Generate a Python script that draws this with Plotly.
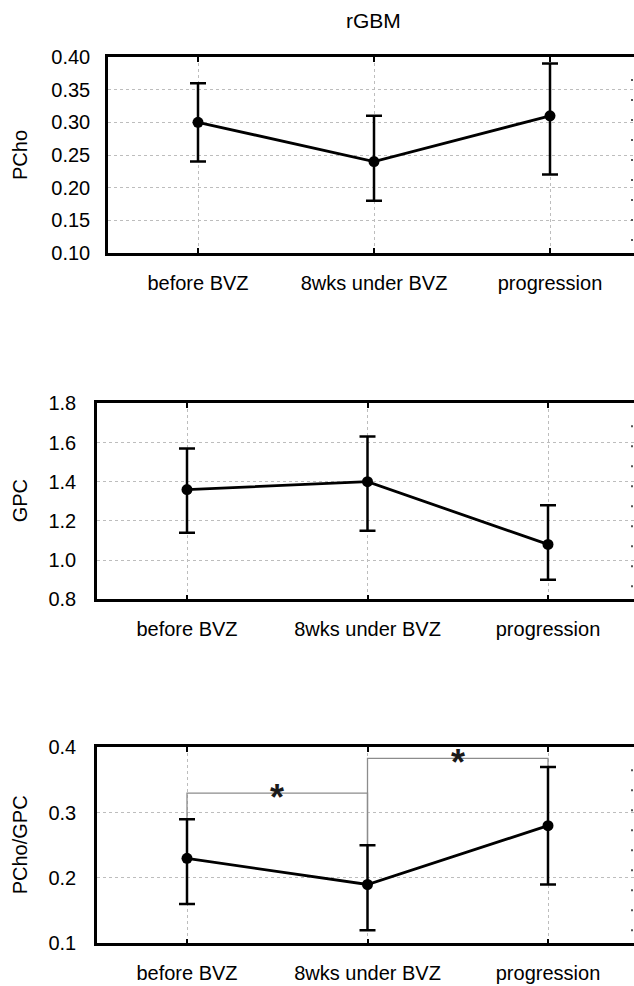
import plotly.graph_objects as go

# ---------------- data ----------------
categories = ["before BVZ", "8wks under BVZ", "progression"]

pcho_mean = [0.30, 0.24, 0.31]
pcho_upper = [0.36, 0.31, 0.39]
pcho_lower = [0.24, 0.18, 0.22]

gpc_mean = [1.36, 1.40, 1.08]
gpc_upper = [1.57, 1.63, 1.28]
gpc_lower = [1.14, 1.15, 0.90]

ratio_mean = [0.23, 0.19, 0.28]
ratio_upper = [0.29, 0.25, 0.37]
ratio_lower = [0.16, 0.12, 0.19]

pcho_ticks = [0.10, 0.15, 0.20, 0.25, 0.30, 0.35, 0.40]
gpc_ticks = [0.8, 1.0, 1.2, 1.4, 1.6, 1.8]
ratio_ticks = [0.1, 0.2, 0.3, 0.4]

sig_pairs = [(0, 1), (1, 2)]
sig_heights = [0.33, 0.383]

panel_titles = ["PCho", "GPC", "PCho/GPC"]
main_title = "rGBM"

# ---------------- layout constants ----------------
W, H = 634, 986
FONT = "Liberation Sans, Arial, sans-serif"

# pixel geometry of each panel: left, top, bottom, first category px, category spacing px
panels = [
    dict(left=108, top=57, bottom=253, c0=198, step=176, ystand=11),
    dict(left=97, top=403.3, bottom=599.3, c0=187, step=180.5, ystand=14),
    dict(left=97, top=747.3, bottom=943.3, c0=187, step=180.5, ystand=14),
]

series = [
    (pcho_mean, pcho_upper, pcho_lower, pcho_ticks, ".2f"),
    (gpc_mean, gpc_upper, gpc_lower, gpc_ticks, ".1f"),
    (ratio_mean, ratio_upper, ratio_lower, ratio_ticks, ".1f"),
]

fig = go.Figure()
layout = dict(
    width=W, height=H,
    margin=dict(l=0, r=0, t=0, b=0, pad=0),
    template="none",
    paper_bgcolor="white",
    plot_bgcolor="white",
    showlegend=False,
    font=dict(family=FONT, size=20, color="black"),
)
annotations = []
shapes = []

xidx = list(range(len(categories)))

for i, (p, (mean, up, lo, yt, fmt)) in enumerate(zip(panels, series)):
    n = "" if i == 0 else str(i + 1)
    xa, ya = "x" + n, "y" + n
    width_px = W - p["left"]
    r0 = -(p["c0"] - p["left"]) / p["step"]
    r1 = r0 + width_px / p["step"]
    ydom = [1 - p["bottom"] / H, 1 - p["top"] / H]

    layout["xaxis" + n] = dict(
        domain=[p["left"] / W, 1.0], anchor=ya, range=[r0, r1],
        tickvals=xidx, ticktext=categories,
        showline=True, linewidth=2.5, linecolor="black", mirror="ticks",
        ticks="inside", ticklen=5, tickwidth=2, tickcolor="black",
        showgrid=True, gridcolor="#bdbdbd", griddash="dot", gridwidth=1,
        zeroline=False, automargin=False, ticklabelstandoff=10,
        tickfont=dict(family=FONT, size=20, color="black"),
        fixedrange=True,
    )
    layout["yaxis" + n] = dict(
        domain=ydom, anchor=xa, range=[yt[0], yt[-1]],
        tickvals=yt, tickformat=fmt,
        showline=True, linewidth=2.5, linecolor="black", mirror=False,
        ticks="", showgrid=True, gridcolor="#bdbdbd", griddash="dot", gridwidth=1,
        zeroline=False, automargin=False, ticklabelstandoff=p["ystand"],
        tickfont=dict(family=FONT, size=20, color="black"),
        fixedrange=True,
    )

    # y-axis title
    annotations.append(dict(
        text=panel_titles[i], xref="paper", yref="paper",
        x=20 / W, y=(ydom[0] + ydom[1]) / 2, showarrow=False,
        textangle=-90, xanchor="center", yanchor="middle",
        font=dict(family=FONT, size=20, color="black"),
    ))

    # dotted right frame
    shapes.append(dict(
        type="line", xref="paper", yref="paper",
        x0=632 / W, x1=632 / W, y0=ydom[0] + 12 / H, y1=ydom[1] - 4 / H,
        line=dict(color="#555555", width=2, dash="2px,18px"),
    ))

    # significance brackets (only third panel)
    if i == 2:
        for (a, b), h in zip(sig_pairs, sig_heights):
            fig.add_trace(go.Scatter(
                x=[a, a, b, b], y=[up[a], h, h, up[b]],
                mode="lines", line=dict(color="#8c8c8c", width=1.3),
                xaxis=xa, yaxis=ya, hoverinfo="skip",
            ))
            annotations.append(dict(
                text="<b>*</b>", xref=xa, yref=ya, x=(a + b) / 2, y=h,
                showarrow=False, xanchor="center", yanchor="middle",
                yshift=-4, font=dict(family=FONT, size=36, color="#1a1a1a"),
            ))

    fig.add_trace(go.Scatter(
        x=xidx, y=mean, mode="lines+markers",
        line=dict(color="black", width=2.8),
        marker=dict(color="black", size=11),
        error_y=dict(
            type="data", symmetric=False,
            array=[u - m for u, m in zip(up, mean)],
            arrayminus=[m - l for m, l in zip(mean, lo)],
            color="black", thickness=2.5, width=8,
        ),
        xaxis=xa, yaxis=ya,
    ))

annotations.append(dict(
    text=main_title, xref="paper", yref="paper", x=373 / W, y=1 - 20 / H,
    showarrow=False, xanchor="center", yanchor="middle",
    font=dict(family=FONT, size=21, color="black"),
))

layout["annotations"] = annotations
layout["shapes"] = shapes
fig.update_layout(**layout)

fig.write_html("out.html", config={"displayModeBar": False})
